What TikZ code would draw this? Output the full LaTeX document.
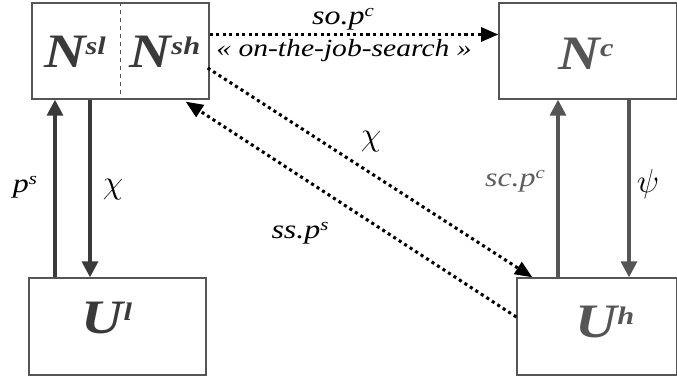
\documentclass[tikz,border=0pt]{standalone}
\usepackage{fontspec}
\setmainfont{Liberation Serif}[FakeStretch=1.2]
\usetikzlibrary{arrows.meta,calc}
\definecolor{darkline}{HTML}{3A3A3A}
\definecolor{greyline}{HTML}{555555}
\definecolor{greytext}{HTML}{5E5E5E}
\newcommand{\bigstate}[2]{{\fontsize{36}{36}\selectfont\bfseries\itshape #1\raisebox{10pt}{\fontsize{19}{19}\selectfont #2}}}
\newcommand{\rate}[2]{{\fontsize{20}{20}\selectfont\itshape #1\raisebox{6pt}{\fontsize{13}{13}\selectfont #2}}}
\newcommand{\greek}[1]{{\fontsize{28}{28}\selectfont #1}}

\begin{document}
\begin{tikzpicture}[x=0.75pt, y=-0.75pt,
  box/.style={draw=greyline, line width=1pt, inner sep=0pt},
  flow/.style={line width=2.5pt, -{Triangle[length=12pt, width=12pt]}},
  search/.style={line width=2.3pt, dash pattern=on 2.3pt off 2.6pt, -{Triangle[length=13pt, width=10.5pt]}},
  lab/.style={inner sep=0pt}]
  \useasboundingbox (0,0) rectangle (677,381);

  \node (N) at (120.5, 51) [box, minimum width=132.75pt, minimum height=72pt] {};
  \node (Nc) at (587.75, 51) [box, minimum width=133.1pt, minimum height=72pt] {};
  \node (Ul) at (117.5, 326.5) [box, minimum width=132.75pt, minimum height=72.75pt] {};
  \node (Uh) at (596.75, 326.5) [box, minimum width=119.6pt, minimum height=72.75pt] {};
  \draw[greyline, dashed] (N.north) -- (N.south);

  \node (Nsl) at (75, 52) [lab, text=darkline] {\bigstate{N}{sl}};
  \node (Nsh) at (165, 52) [lab, text=darkline] {\bigstate{N}{sh}};
  \node (Ncl) at (586, 54) [lab, text=greyline] {\bigstate{N}{c}};
  \node (Ull) at (107, 318) [lab, text=darkline] {\bigstate{U}{l}};
  \node (Uhl) at (605, 322) [lab, text=greyline] {\bigstate{U}{h}};

  \coordinate (ps) at (55, 0);
  \coordinate (chil) at (90, 0);
  \coordinate (sc) at (558, 0);
  \coordinate (psi) at (629, 0);
  \coordinate (jobs) at (0, 34.5);

  \draw[flow, darkline] (ps |- Ul.north) -- (ps |- N.south);
  \draw[flow, darkline] (chil |- N.south) -- (chil |- Ul.north);
  \draw[flow, greyline] (sc |- Uh.north) -- (sc |- Nc.south);
  \draw[flow, greyline] (psi |- Nc.south) -- (psi |- Uh.north);
  \draw[search] (N.east |- jobs) -- (Nc.west |- jobs);
  \draw[search] ($(N.east)+(-2, 17)$) -- ($(Uh.north west)+(16, 0)$);
  \draw[search] ($(Uh.west)+(0, -9.5)$) -- ($(N.south east)+(-24, 2)$);

  \node (so) at (343, 25) [lab, anchor=base] {\rate{so.p}{c}};
  \node (otj) at (344, 57) [lab, anchor=base, font=\fontsize{18.5}{18.5}\selectfont\itshape] {« on-the-job-search »};
  \node (psl) at (25, 192) [lab, anchor=base] {\rate{p}{s}};
  \node (chill) at (113, 190) [lab] {\greek{$\chi$}};
  \node (chim) at (371, 142) [lab] {\greek{$\chi$}};
  \node (ssl) at (300, 238) [lab, anchor=base] {\rate{ss.p}{s}};
  \node (scl) at (515, 186) [lab, anchor=base, text=greytext] {\rate{sc.p}{c}};
  \node (psil) at (648, 184) [lab] {\greek{$\psi$}};
\end{tikzpicture}
\end{document}
